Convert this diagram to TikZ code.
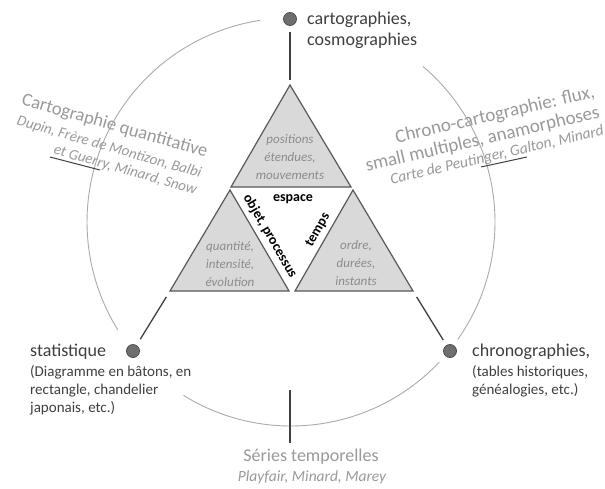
\documentclass[tikz,border=0pt]{standalone}
\usepackage{fontspec}
\setmainfont{Carlito}
\usetikzlibrary{calc}
\definecolor{trifill}{HTML}{D9D9D9}
\definecolor{triedge}{HTML}{595959}
\definecolor{innertxt}{HTML}{8C8C8C}
\definecolor{greytxt}{HTML}{9A9A9A}
\definecolor{darktxt}{HTML}{3F3F3F}
\definecolor{circc}{HTML}{ABABAB}
\definecolor{linkc}{HTML}{404040}
\definecolor{dotfill}{HTML}{6E6E6E}
\definecolor{dotedge}{HTML}{4D4D4D}
\begin{document}
\begin{tikzpicture}[x=1pt,y=-1pt,
  tri/.style={draw=triedge, fill=trifill, line width=1.2pt, line join=miter},
  innertext/.style={font=\fontsize{13}{18}\selectfont\itshape, text=innertxt, align=center, inner sep=0pt},
  keylbl/.style={font=\fontsize{14}{16}\selectfont\bfseries, text=black, inner sep=0pt},
  dotnode/.style={circle, fill=dotfill, draw=dotedge, line width=0.8pt, minimum size=13pt, inner sep=0pt},
  link/.style={draw=linkc, line width=1.3pt},
  circ/.style={draw=circc, line width=0.9pt},
  mainlbl/.style={font=\fontsize{18}{21}\selectfont, text=darktxt, inner sep=0pt},
  sublbl/.style={font=\fontsize{15}{18}\selectfont, text=darktxt, inner sep=0pt, align=left},
  greylbl/.style={font=\fontsize{18}{21}\selectfont, text=greytxt, inner sep=0pt},
  greyital/.style={font=\fontsize{15.5}{18}\selectfont\itshape, text=greytxt, inner sep=0pt},
  greyblock/.style={font=\fontsize{18.5}{21}\selectfont, text=greytxt, inner sep=0pt, align=right}
]
\useasboundingbox (0,0) rectangle (605,488);
\fill[white] (0,0) rectangle (605,488);

% circle
\coordinate (cc) at (291,222);
\draw[circ] ($(cc)+(-98.7:204)$) arc[start angle=-98.7, end angle=-211.9, radius=204];
\draw[circ] ($(cc)+(-49.7:204)$) arc[start angle=-49.7, end angle=35.2, radius=204];
\draw[circ] ($(cc)+(43.4:204)$) arc[start angle=43.4, end angle=121.8, radius=204];

% triangles
\coordinate (tA) at (290,85);  \coordinate (tB) at (231,187); \coordinate (tC) at (351,187);
\coordinate (lA) at (230,190); \coordinate (lB) at (170,291); \coordinate (lC) at (289,291);
\coordinate (rA) at (353,190); \coordinate (rB) at (295,291); \coordinate (rC) at (413,291);
\draw[tri] (tA) -- (tB) -- (tC) -- cycle;
\draw[tri] (lA) -- (lB) -- (lC) -- cycle;
\draw[tri] (rA) -- (rB) -- (rC) -- cycle;

% dots
\node[dotnode] (dTop) at (290,19) {};
\node[dotnode] (dStat) at (133,351) {};
\node[dotnode] (dChrono) at (450,351) {};

% links
\draw[link, shorten <=6pt, shorten >=5pt] (dTop) -- (tA);
\draw[link, shorten <=7pt, shorten >=7pt] (dStat) -- (lB);
\draw[link, shorten <=6pt, shorten >=7pt] (dChrono) -- (rC);
\coordinate (tickTop) at (290,390);
\coordinate (tickBot) at (290,443);
\draw[link] (tickTop) -- (tickBot);

% inner texts
\node[innertext] (txtTop) at (290,157) {positions\\étendues,\\mouvements};
\node[innertext] (txtLeft) at (230,264) {quantité,\\intensité,\\évolution};
\node[innertext] (txtRight) at (356,263) {ordre,\\durées,\\instants};

% key labels
\node[keylbl, anchor=base] (kEsp) at (293,201) {espace};
\node[keylbl, rotate=-60] (kObj) at (270,236) {objet, processus};
\node[keylbl, rotate=60] (kTemps) at (318,230) {temps};

% pole labels
\node[mainlbl, align=left, anchor=west] (lblTop) at (307,30) {cartographies,\\cosmographies};
\node[mainlbl, anchor=base west] (lblStat) at (30,356) {statistique};
\node[sublbl, anchor=west] (lblStatSub) at (30,390) {(Diagramme en bâtons, en\\rectangle, chandelier\\japonais, etc.)};
\node[mainlbl, anchor=base west] (lblChrono) at (472,356) {chronographies,};
\node[sublbl, anchor=west] (lblChronoSub) at (472,381) {(tables historiques,\\généalogies, etc.)};

% grey labels
\node[greylbl, anchor=base] (lblSeries) at (311,461) {Séries temporelles};
\node[greyital, anchor=base] (lblSeriesSub) at (312,481) {Playfair, Minard, Marey};

\node[greyblock, anchor=east, rotate=-16] (lblCarto) at (202,171)
  {Cartographie quantitative\\{\fontsize{15}{17.5}\selectfont\itshape Dupin, Frère de Montizon, Balbi}\\[-3.5pt]{\fontsize{15}{17.5}\selectfont\itshape et Guerry, Minard, Snow}};
\node[greyblock, anchor=east, rotate=13, font=\fontsize{19}{21}\selectfont] (lblChronoCarto) at (599,111)
  {Chrono-cartographie: flux,\\small multiples, anamorphoses\\[-3pt]{\fontsize{15.5}{18}\selectfont\itshape Carte de Peutinger, Galton, Minard}};

% underlines
\coordinate (ulL1) at (50,157); \coordinate (ulL2) at (100,170);
\draw[link, line width=1pt] (ulL1) -- (ulL2);
\coordinate (ulR1) at (481,167); \coordinate (ulR2) at (527,157);
\draw[link, line width=1pt] (ulR1) -- (ulR2);
\end{tikzpicture}
\end{document}
